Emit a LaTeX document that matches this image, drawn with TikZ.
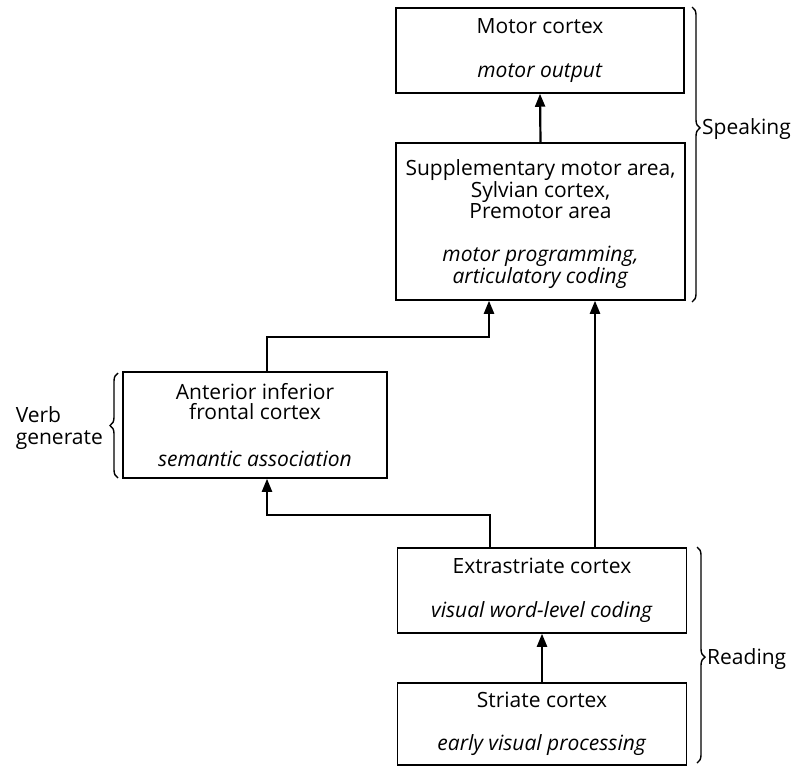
\documentclass[tikz,border=0pt]{standalone}
\usepackage{fontspec}
\setmainfont{Open Sans}
\usetikzlibrary{arrows.meta,decorations.pathreplacing,calc}
\begin{document}
\begin{tikzpicture}[x=1pt,y=-1pt,
  box/.style={draw, line width=1.5pt, inner sep=0pt, align=center,
    font=\fontsize{21}{20.5}\selectfont},
  arr/.style={line width=2.2pt, -{Triangle[length=13pt,width=10pt]}},
  brc/.style={decorate, line width=1.4pt},
  lab/.style={font=\fontsize{21}{22}\selectfont, inner sep=0pt}]
\useasboundingbox (0,0) rectangle (799,768);
\node[box, minimum width=288pt, minimum height=85pt] (motor) at (540,50.5)
  {Motor cortex\\[23pt]\textit{motor output}};
\node[box, minimum width=289pt, minimum height=157pt] (supp) at (540.5,221.5)
  {\rule{0pt}{22pt}Supplementary motor area,\\ Sylvian cortex,\\ Premotor area\\[23pt]\textit{motor programming,}\\ \textit{articulatory coding}};
\node[box, minimum width=264pt, minimum height=106pt] (ant) at (255,425)
  {Anterior inferior\\ frontal cortex\\[26pt]\textit{semantic association}};
\node[box, minimum width=289pt, minimum height=85pt] (ext) at (542,590.5)
  {Extrastriate cortex\\[23pt]\textit{visual word-level coding}};
\node[box, minimum width=289pt, minimum height=82pt] (str) at (542,724)
  {Striate cortex\\[23pt]\textit{early visual processing}};
% connectors
\coordinate (j1) at (267,337);
\coordinate (xb) at (489,0);
\coordinate (j2) at (490,515);
\coordinate (xc) at (595,0);
\draw[arr] (supp.north) -- (motor.south);
\draw[arr] (j1 |- ant.north) -- (j1) -| (xb |- supp.south);
\draw[arr] (j2 |- ext.north) -- (j2) -| (j1 |- ant.south);
\draw[arr] (xc |- ext.north) -- (xc |- supp.south);
\draw[arr] (str.north) -- (ext.south);
% braces
\coordinate (s1) at (692,7);
\coordinate (s2) at (692,302);
\coordinate (r1) at (697,547);
\coordinate (r2) at (697,763);
\coordinate (v1) at (118,478);
\coordinate (v2) at (118,373);
\draw[brc, decoration={brace, amplitude=8pt, aspect=0.41}] (s1) -- (s2);
\draw[brc, decoration={brace, amplitude=8pt, aspect=0.51}] (r1) -- (r2);
\draw[brc, decoration={brace, amplitude=8pt, aspect=0.5}] (v1) -- (v2);
\node[lab, anchor=west] (spk) at (702,129) {Speaking};
\node[lab, anchor=west] (rd) at (707,659) {Reading};
\node[lab, anchor=east, align=left] (vg) at (103,428) {Verb\\generate};
\end{tikzpicture}
\end{document}
